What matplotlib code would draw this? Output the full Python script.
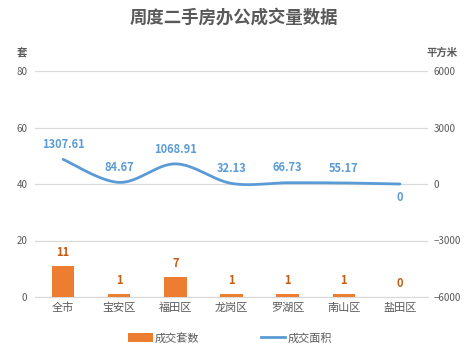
import numpy as np
import matplotlib
matplotlib.use("Agg")
import matplotlib.pyplot as plt
from matplotlib.lines import Line2D
from matplotlib.patches import Patch

plt.rcParams['font.family'] = ['Noto Sans CJK SC', 'DejaVu Sans']

categories = ['全市', '宝安区', '福田区', '龙岗区', '罗湖区', '南山区', '盐田区']
counts = [11, 1, 7, 1, 1, 1, 0]
areas = [1307.61, 84.67, 1068.91, 32.13, 66.73, 55.17, 0]
count_labels = ['11', '1', '7', '1', '1', '1', '0']
area_labels = ['1307.61', '84.67', '1068.91', '32.13', '66.73', '55.17', '0']
left_ticks = [0, 20, 40, 60, 80]
right_ticks = [-6000, -3000, 0, 3000, 6000]

ORANGE = '#ED7D31'
BLUE = '#5B9BD5'
GRID = '#D9D9D9'
TXT = '#595959'

def smooth(xs, ys, n=40):
    xs = np.asarray(xs, float); ys = np.asarray(ys, float)
    P = np.column_stack([xs, ys])
    out = []
    for i in range(len(P) - 1):
        p0 = P[i - 1] if i > 0 else P[i]
        p1 = P[i]; p2 = P[i + 1]
        p3 = P[i + 2] if i + 2 < len(P) else P[i + 1]
        c1 = p1 + (p2 - p0) / 6.0
        c2 = p2 - (p3 - p1) / 6.0
        t = np.linspace(0, 1, n)[:, None]
        seg = (1 - t) ** 3 * p1 + 3 * (1 - t) ** 2 * t * c1 + 3 * (1 - t) * t ** 2 * c2 + t ** 3 * p2
        out.append(seg if i == 0 else seg[1:])
    s = np.vstack(out)
    return s[:, 0], s[:, 1]

fig = plt.figure(figsize=(4.68, 3.53), dpi=100)
ax = fig.add_axes([35 / 468, 1 - 297 / 353, 393 / 468, 226 / 353])
ax2 = ax.twinx()

x = np.arange(len(categories))
ax.bar(x, counts, width=0.4, color=ORANGE, zorder=3)
ax.set_ylim(0, 80)
ax.set_xlim(-0.5, len(categories) - 0.5)
ax.set_yticks(left_ticks)
ax.grid(axis='y', color=GRID, linewidth=0.9, zorder=0)
ax.set_axisbelow(True)
for s in ['top', 'right', 'left']:
    ax.spines[s].set_visible(False)
ax.spines['bottom'].set_color(GRID)
ax.tick_params(axis='y', length=0, colors=TXT, labelsize=7, pad=5.5)
ax.tick_params(axis='x', length=0, colors=TXT, labelsize=8, pad=4)
ax.set_xticks(x)
ax.set_xticklabels(categories)

for xi, c, lab in zip(x, counts, count_labels):
    ax.annotate(lab, (xi, c), xytext=(0, 5), textcoords='offset points',
                ha='center', va='bottom', fontsize=8, fontweight='bold', color='#C55A11')

sx, sy = smooth(x, areas)
ax2.plot(sx, sy, color=BLUE, linewidth=2, solid_capstyle='round', zorder=4)
ax2.set_ylim(-6000, 6000)
ax2.set_yticks(right_ticks)
for s in ['top', 'right', 'left', 'bottom']:
    ax2.spines[s].set_visible(False)
ax2.tick_params(axis='y', length=0, colors=TXT, labelsize=7, pad=4)

for xi, a, lab in zip(x, areas, area_labels):
    if a == 0:
        ax2.annotate(lab, (xi, a), xytext=(0, -5), textcoords='offset points',
                     ha='center', va='top', fontsize=8, fontweight='bold', color=BLUE)
    else:
        ax2.annotate(lab, (xi, a), xytext=(0, 6), textcoords='offset points',
                     ha='center', va='bottom', fontsize=8, fontweight='bold', color=BLUE)

fig.text(0.5, 1 - 18 / 353, '周度二手房办公成交量数据', ha='center', va='center',
         fontsize=12.5, fontweight='bold', color=TXT)
fig.text(22 / 468, 1 - 53 / 353, '套', ha='center', va='center', fontsize=7.5,
         fontweight='bold', color=TXT)
fig.text(442 / 468, 1 - 53 / 353, '平方米', ha='center', va='center', fontsize=7.5,
         fontweight='bold', color=TXT)

handles = [Patch(facecolor=ORANGE, edgecolor='none'),
           Line2D([0], [0], color=BLUE, linewidth=2)]
fig.legend(handles, ['成交套数', '成交面积'], loc='center', bbox_to_anchor=(230 / 468, 1 - 338 / 353),
           ncol=2, frameon=False, fontsize=8, labelcolor=TXT, handlelength=2.2,
           handleheight=0.9, handletextpad=0.2, columnspacing=5.5)

fig.savefig('out.png', dpi=100)
